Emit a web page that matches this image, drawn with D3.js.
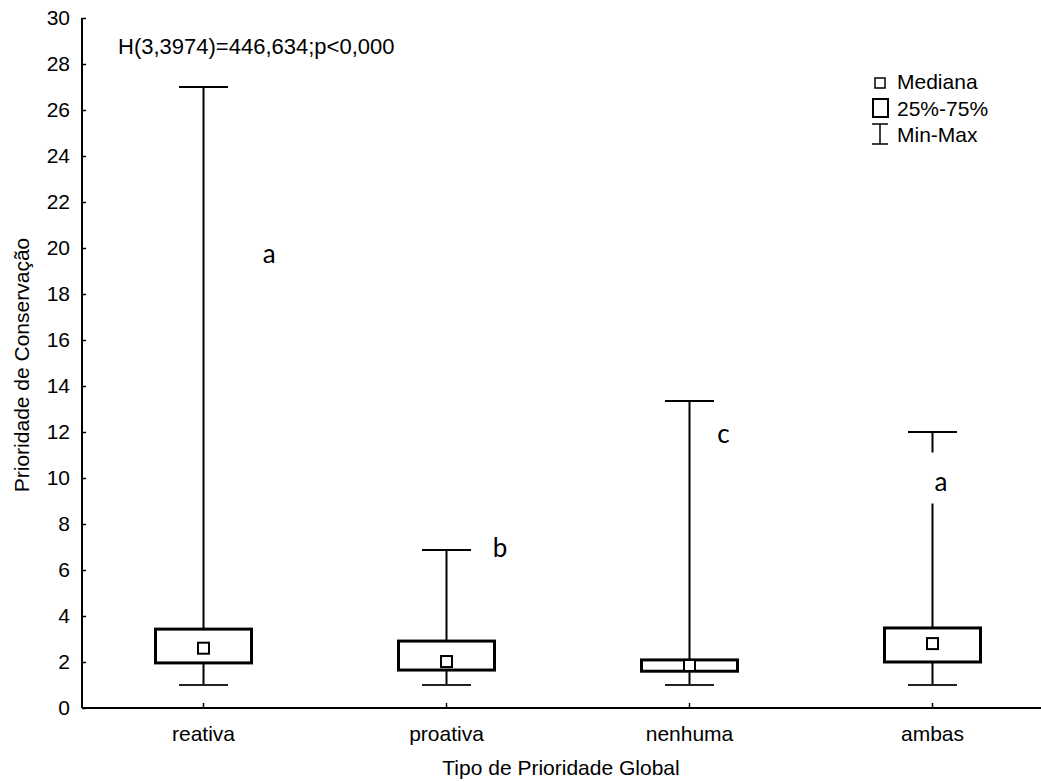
<!DOCTYPE html>
<html>
<head>
<meta charset="utf-8">
<script src="https://cdn.jsdelivr.net/npm/d3@7"></script>
<style>
  html, body { margin: 0; padding: 0; background: #fff; }
  svg { display: block; }
  text { font-family: "Liberation Sans", Arial, sans-serif; fill: #000; }
</style>
</head>
<body>
<svg id="chart" width="1041" height="782"></svg>
<script>
// ---- data ----
const categories = ["reativa", "proativa", "nenhuma", "ambas"];
const minVals    = [1.0, 1.0, 1.0, 1.0];
const q1Vals     = [1.96, 1.65, 1.60, 2.00];
const medianVals = [2.60, 2.02, 1.85, 2.80];
const q3Vals     = [3.43, 2.91, 2.09, 3.48];
const maxVals    = [27.0, 6.87, 13.35, 12.0];
const groupLetters = ["a", "b", "c", "a"];
const letterValues = [19.65, 6.87, 11.83, 9.76];   // vertical position in data units
const letterBandShift = [0.27, 0.22, 0.14, 0.035]; // horizontal shift in band fractions
const yTicks = d3.range(0, 31, 2);
const statText = "H(3,3974)=446,634;p<0,000";
const yTitle = "Prioridade de Conservação";
const xTitle = "Tipo de Prioridade Global";
const legendItems = ["Mediana", "25%-75%", "Min-Max"];

(function () {
// ---- layout ----
const svg = d3.select("#chart");
const mLeft = 82, mBottom = 708, mTop = 18, mRight = 1054;
const y = d3.scaleLinear().domain([0, 30]).range([mBottom, mTop]);
const x = d3.scaleBand().domain(categories).range([mLeft, mRight]).padding(0);
const cx = c => x(c) + x.bandwidth() / 2;

const data = categories.map((c, i) => ({
  cat: c, min: minVals[i], q1: q1Vals[i], med: medianVals[i], q3: q3Vals[i], max: maxVals[i],
  letter: groupLetters[i], ly: letterValues[i], lx: letterBandShift[i]
}));

// axes
const yAxis = d3.axisLeft(y).tickValues(yTicks).tickSize(-4).tickPadding(12).tickFormat(d3.format("d"));
const gy = svg.append("g").attr("transform", `translate(${mLeft},0)`).call(yAxis);
gy.select(".domain").attr("stroke-width", 2).attr("d", `M0,${mTop}V${mBottom}`);
gy.selectAll(".tick line").attr("stroke-width", 1.5);
gy.selectAll(".tick text").style("font-size", "21px").attr("font-family", "Liberation Sans, Arial, sans-serif");

const xAxis = d3.axisBottom(x).tickSize(-5).tickPadding(18);
const gx = svg.append("g").attr("transform", `translate(0,${mBottom})`).call(xAxis);
gx.select(".domain").attr("stroke-width", 2).attr("d", `M${mLeft},0H1041`);
gx.selectAll(".tick line").attr("stroke-width", 1.5);
gx.selectAll(".tick text").style("font-size", "21px").attr("font-family", "Liberation Sans, Arial, sans-serif");

// boxes
const boxW = 96, capW = 49, medS = 11;
const g = svg.append("g");
const grp = g.selectAll("g.box").data(data).join("g").attr("class", "box");

grp.append("line")
  .attr("x1", d => cx(d.cat)).attr("x2", d => cx(d.cat))
  .attr("y1", d => y(d.min)).attr("y2", d => y(d.max))
  .attr("stroke", "#000").attr("stroke-width", 2);
grp.append("line")
  .attr("x1", d => cx(d.cat) - capW / 2).attr("x2", d => cx(d.cat) + capW / 2)
  .attr("y1", d => y(d.max)).attr("y2", d => y(d.max))
  .attr("stroke", "#000").attr("stroke-width", 2);
grp.append("line")
  .attr("x1", d => cx(d.cat) - capW / 2).attr("x2", d => cx(d.cat) + capW / 2)
  .attr("y1", d => y(d.min)).attr("y2", d => y(d.min))
  .attr("stroke", "#222").attr("stroke-width", 2);
grp.append("rect")
  .attr("x", d => cx(d.cat) - boxW / 2).attr("width", boxW)
  .attr("y", d => y(d.q3)).attr("height", d => y(d.q1) - y(d.q3))
  .attr("fill", "#fff").attr("stroke", "#000").attr("stroke-width", 3);
grp.append("rect")
  .attr("x", d => cx(d.cat) - medS / 2).attr("width", medS)
  .attr("y", d => y(d.med) - medS / 2).attr("height", medS)
  .attr("fill", "#fff").attr("stroke", "#000").attr("stroke-width", 2);

// group letters with white background
const lg = svg.append("g").selectAll("g").data(data).join("g")
  .attr("transform", d => `translate(${cx(d.cat) + d.lx * x.bandwidth()},${y(d.ly)})`);
lg.append("rect").attr("x", -11).attr("y", -31).attr("width", 22).attr("height", 51).attr("fill", "#fff");
lg.append("text").attr("text-anchor", "middle").attr("dy", 7)
  .style("font-family", "Lato, 'Open Sans', sans-serif").style("font-size", "26px")
  .text(d => d.letter);

// stat text
svg.append("text").attr("x", 118).attr("y", 54).style("font-size", "22px").text(statText);

// axis titles
svg.append("text").attr("text-anchor", "middle").attr("x", 561).attr("y", 775)
  .style("font-size", "21px").text(xTitle);
svg.append("text").attr("text-anchor", "middle")
  .attr("transform", "translate(29,365) rotate(-90)")
  .style("font-size", "21px").text(yTitle);

// legend
const leg = svg.append("g");
leg.append("rect").attr("x", 875).attr("y", 78).attr("width", 10).attr("height", 10)
  .attr("fill", "#fff").attr("stroke", "#000").attr("stroke-width", 1.5);
leg.append("rect").attr("x", 873).attr("y", 99).attr("width", 15).attr("height", 18)
  .attr("fill", "#fff").attr("stroke", "#000").attr("stroke-width", 2);
leg.append("path").attr("d", "M872,124H888M880,124V144M872,144H888")
  .attr("fill", "none").attr("stroke", "#000").attr("stroke-width", 1.5);
leg.selectAll("text").data(legendItems).join("text")
  .attr("x", 897).attr("y", (d, i) => 89 + i * 26.5)
  .style("font-size", "21px").text(d => d);
})();
</script>
</body>
</html>
